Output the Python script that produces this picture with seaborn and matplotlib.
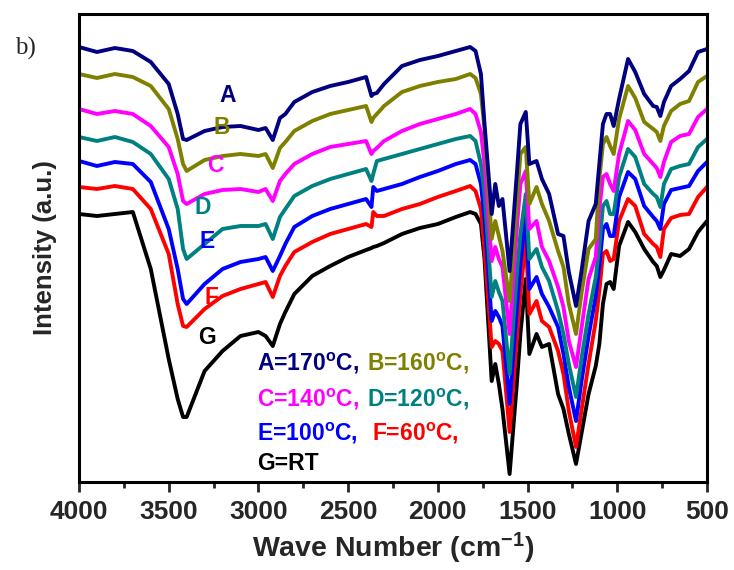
import numpy as np
import pandas as pd
import seaborn as sns
import matplotlib
matplotlib.use("Agg")
import matplotlib.pyplot as plt
from matplotlib.ticker import MultipleLocator

# ---------------- data (intensity in a.u.) ----------------
wavenumber = [4000, 3900, 3800, 3700, 3600, 3500, 3450, 3420, 3400, 3300, 3200, 3100, 3000,
              2960, 2920, 2880, 2850, 2800, 2700, 2600, 2500, 2400, 2370, 2360, 2340, 2300,
              2200, 2100, 2000, 1900, 1820, 1790, 1760, 1740, 1700, 1680, 1660, 1640, 1600,
              1560, 1540, 1510, 1490, 1450, 1420, 1380, 1330, 1300, 1270, 1230, 1200, 1160,
              1120, 1100, 1080, 1060, 1040, 1020, 990, 940, 900, 850, 800, 780, 760, 740,
              700, 650, 600, 550, 500]

# values recorded as distance below the top of the plot frame (pixels of the reference)
depth_A = [33, 38, 34, 37, 48, 70, 100, 125, 126, 117, 113, 112, 116, 114, 126, 104, 100, 88, 78, 72,
           68, 63, 82, 80, 79, 70, 52, 46, 42, 37, 33, 37, 60, 110, 200, 170, 192, 185, 257, 160,
           110, 98, 150, 147, 165, 180, 220, 222, 258, 292, 258, 207, 190, 150, 110, 100, 100,
           112, 85, 45, 58, 80, 92, 93, 102, 88, 72, 65, 57, 38, 35]
depth_B = [60, 64, 60, 63, 72, 95, 125, 150, 157, 146, 142, 140, 142, 140, 154, 134, 128, 117, 107, 100,
           96, 92, 108, 104, 100, 92, 78, 72, 68, 65, 60, 64, 80, 115, 225, 207, 222, 237, 287, 190,
           140, 133, 190, 173, 190, 207, 237, 253, 290, 320, 280, 235, 225, 165, 130, 123, 132,
           140, 105, 72, 84, 108, 115, 118, 127, 112, 97, 90, 87, 68, 62]
depth_C = [95, 100, 97, 100, 112, 133, 160, 187, 190, 180, 176, 175, 178, 175, 187, 167, 160, 150, 140,
           133, 130, 127, 140, 137, 134, 127, 117, 110, 105, 100, 95, 100, 118, 150, 247, 233, 245,
           253, 320, 215, 170, 157, 215, 207, 233, 247, 273, 293, 327, 353, 315, 265, 243, 195, 163,
           160, 170, 177, 140, 107, 116, 140, 150, 154, 163, 148, 128, 122, 120, 103, 95]
depth_D = [123, 127, 123, 128, 140, 165, 195, 235, 245, 230, 215, 212, 212, 210, 225, 203, 195, 182,
           172, 165, 160, 155, 167, 160, 147, 145, 140, 135, 130, 125, 122, 127, 150, 180, 283, 267,
           278, 287, 360, 260, 220, 180, 245, 235, 253, 267, 297, 320, 350, 383, 345, 300, 263, 232,
           192, 187, 200, 200, 163, 135, 143, 170, 180, 183, 193, 170, 155, 152, 150, 133, 125]
depth_E = [147, 152, 148, 150, 168, 215, 255, 285, 290, 270, 255, 248, 245, 243, 257, 242, 230, 213,
           202, 195, 190, 185, 193, 173, 177, 175, 170, 163, 157, 150, 146, 150, 170, 205, 307, 297,
           303, 312, 390, 295, 250, 200, 275, 263, 280, 293, 313, 340, 373, 407, 368, 322, 282, 252,
           215, 210, 222, 222, 183, 158, 165, 192, 203, 207, 215, 190, 176, 174, 172, 157, 148]
depth_F = [173, 175, 172, 175, 195, 240, 290, 312, 313, 295, 282, 275, 270, 268, 283, 262, 252, 238,
           228, 220, 215, 210, 213, 198, 202, 202, 195, 190, 183, 177, 172, 177, 195, 235, 333, 327,
           330, 337, 418, 325, 280, 225, 300, 287, 307, 313, 337, 360, 397, 433, 397, 350, 307, 277,
           240, 237, 247, 245, 207, 185, 192, 220, 230, 233, 243, 215, 204, 201, 200, 183, 173]
depth_G = [200, 202, 200, 198, 255, 345, 385, 403, 403, 357, 337, 322, 318, 322, 332, 310, 298, 280,
           262, 252, 243, 236, 234, 233, 232, 229, 220, 214, 210, 203, 198, 200, 210, 245, 367, 350,
           370, 395, 460, 370, 320, 265, 340, 320, 333, 330, 380, 395, 420, 450, 420, 380, 352, 330,
           290, 270, 268, 275, 232, 208, 218, 235, 248, 252, 263, 256, 240, 242, 235, 218, 207]

series_names = ["A", "B", "C", "D", "E", "F", "G"]
series_depths = [depth_A, depth_B, depth_C, depth_D, depth_E, depth_F, depth_G]
series_colors = ["#000080", "#808000", "#ff00ff", "#008080", "#0000ff", "#ff0000", "#000000"]
legend_lines = [[("A=170", "#000080"), ("B=160", "#808000")],
                [("C=140", "#ff00ff"), ("D=120", "#008080")],
                [("E=100", "#0000ff"), ("F=60", "#ff0000")],
                [("G=RT", "#000000")]]
x_ticks = [4000, 3500, 3000, 2500, 2000, 1500, 1000, 500]

FRAME = 468  # height of the plot frame in the same units
rows = []
for name, depth in zip(series_names, series_depths):
    for w, d in zip(wavenumber, depth):
        rows.append({"wn": w, "intensity": FRAME - d, "sample": name})
df = pd.DataFrame(rows)

# ---------------- styling ----------------
sns.set_theme(style="ticks")
plt.rcParams["font.family"] = ["Liberation Sans", "DejaVu Sans"]
plt.rcParams["mathtext.fontset"] = "custom"
plt.rcParams["mathtext.rm"] = "Liberation Sans"
plt.rcParams["mathtext.bf"] = "Liberation Sans:bold"
plt.rcParams["mathtext.it"] = "Liberation Sans:italic"

fig = plt.figure(figsize=(7.34, 5.70), dpi=100)
ax = fig.add_axes([79 / 734, 1 - 482 / 570, 628 / 734, 468 / 570])

# draw bottom curve first so the top curve sits above
for name, col in reversed(list(zip(series_names, series_colors))):
    sub = df[df["sample"] == name]
    sns.lineplot(data=sub, x="wn", y="intensity", color=col, linewidth=2.8,
                 estimator=None, sort=False, ax=ax, legend=False)

ax.set_xlim(4000, 500)
ax.set_ylim(0, FRAME)
ax.set_xticks(x_ticks)
ax.xaxis.set_minor_locator(MultipleLocator(250))
ax.set_yticks([])
ax.tick_params(axis="x", which="major", direction="out", length=7, width=2,
               labelsize=19, pad=6, top=False)
ax.tick_params(axis="x", which="minor", direction="out", length=4, width=2, top=False)
for lab in ax.get_xticklabels():
    lab.set_fontweight("bold")
for sp in ax.spines.values():
    sp.set_visible(True)
    sp.set_linewidth(2.2)
    sp.set_color("black")

ax.set_xlabel(r"Wave Number (cm$^{\mathbf{-1}}$)", fontsize=20.5, fontweight="bold", labelpad=5)
ax.set_ylabel("Intensity (a.u.)", fontsize=18.5, fontweight="bold", labelpad=16)

# curve letters
letter_pos = {"A": (228, 95), "B": (222, 128), "C": (215, 165), "D": (203, 207),
              "E": (207, 242), "F": (212, 298), "G": (207, 337)}
for name, col in zip(series_names, series_colors):
    px, py = letter_pos[name]
    ax.text((px - 79) / 628, (482 - py) / 468, name, transform=ax.transAxes, color=col,
            fontsize=16.5, fontweight="bold", ha="center", va="center")

# temperature legend text
baselines = [371, 407, 440, 470]
second_x = [367, 367, 372]
for i, line in enumerate(legend_lines):
    yb = (482 - baselines[i]) / 468
    for j, (txt, col) in enumerate(line):
        if txt.endswith("RT"):
            s = txt
        else:
            s = txt + r"$^{\mathbf{o}}$C,"
        xpx = 257 if j == 0 else second_x[i]
        ax.text((xpx - 79) / 628, yb, s, transform=ax.transAxes, color=col,
                fontsize=16.5, fontweight="bold", ha="left", va="baseline")

fig.text(25 / 734, 1 - 48 / 570, "b)", fontsize=18, family="Liberation Serif",
         ha="center", va="center")

fig.savefig("out.png", dpi=100, facecolor="white")
